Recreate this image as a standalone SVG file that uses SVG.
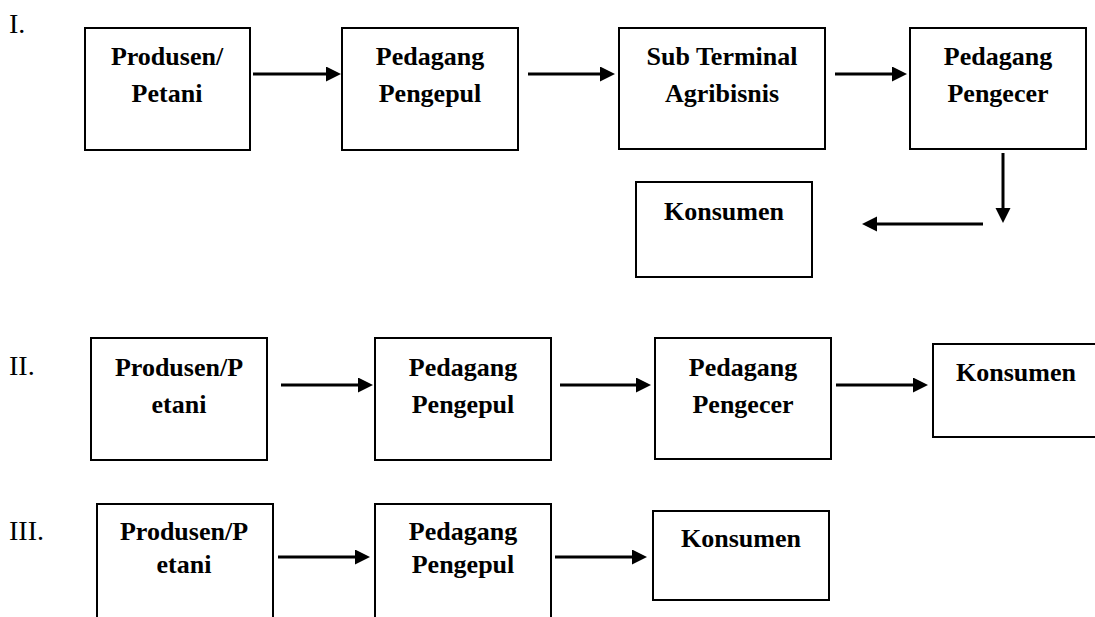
<svg xmlns="http://www.w3.org/2000/svg" width="1095" height="617" viewBox="0 0 1095 617">
  <style>
    .box { fill: #ffffff; stroke: #000000; stroke-width: 2; }
    .lbl { font-family: "Liberation Serif", "Times New Roman", serif; font-weight: bold; font-size: 26px; text-anchor: middle; fill: #000000; }
    .num { font-family: "Liberation Serif", "Times New Roman", serif; font-size: 28px; fill: #000000; }
    .arr { stroke: #000000; stroke-width: 3; fill: none; marker-end: url(#ah); }
  </style>
  <defs>
    <marker id="ah" markerUnits="userSpaceOnUse" markerWidth="18" markerHeight="16" refX="1" refY="7.5" orient="auto">
      <path d="M0,0 L15,7.5 L0,15 z" fill="#000000"/>
    </marker>
  </defs>
  <rect width="1095" height="617" fill="#ffffff"/>

  <g id="row-labels">
    <text class="num" x="9" y="33">I.</text>
    <text class="num" x="9" y="375">II.</text>
    <text class="num" x="9" y="540">III.</text>
  </g>

  <!-- Row I -->
  <g id="r1-produsen">
    <rect class="box" x="85" y="28" width="165" height="122"/>
    <text class="lbl" x="167" y="65">Produsen/</text>
    <text class="lbl" x="167" y="102">Petani</text>
  </g>
  <g id="r1-pengepul">
    <rect class="box" x="342" y="28" width="176" height="122"/>
    <text class="lbl" x="430" y="65">Pedagang</text>
    <text class="lbl" x="430" y="102">Pengepul</text>
  </g>
  <g id="r1-sta">
    <rect class="box" x="619" y="28" width="206" height="121"/>
    <text class="lbl" x="722" y="65">Sub Terminal</text>
    <text class="lbl" x="722" y="102">Agribisnis</text>
  </g>
  <g id="r1-pengecer">
    <rect class="box" x="910" y="28" width="176" height="121"/>
    <text class="lbl" x="998" y="65">Pedagang</text>
    <text class="lbl" x="998" y="102">Pengecer</text>
  </g>
  <g id="r1-konsumen">
    <rect class="box" x="636" y="182" width="176" height="95"/>
    <text class="lbl" x="724" y="220">Konsumen</text>
  </g>

  <!-- Row II -->
  <g id="r2-produsen">
    <rect class="box" x="91" y="338" width="176" height="122"/>
    <text class="lbl" x="179" y="376">Produsen/P</text>
    <text class="lbl" x="179" y="413">etani</text>
  </g>
  <g id="r2-pengepul">
    <rect class="box" x="375" y="338" width="176" height="122"/>
    <text class="lbl" x="463" y="376">Pedagang</text>
    <text class="lbl" x="463" y="413">Pengepul</text>
  </g>
  <g id="r2-pengecer">
    <rect class="box" x="655" y="338" width="176" height="121"/>
    <text class="lbl" x="743" y="376">Pedagang</text>
    <text class="lbl" x="743" y="413">Pengecer</text>
  </g>
  <g id="r2-konsumen">
    <rect class="box" x="933" y="344" width="200" height="93"/>
    <text class="lbl" x="1016" y="381">Konsumen</text>
  </g>

  <!-- Row III -->
  <g id="r3-produsen">
    <rect class="box" x="97" y="504" width="176" height="150"/>
    <text class="lbl" x="184" y="540">Produsen/P</text>
    <text class="lbl" x="184" y="573">etani</text>
  </g>
  <g id="r3-pengepul">
    <rect class="box" x="375" y="504" width="176" height="150"/>
    <text class="lbl" x="463" y="540">Pedagang</text>
    <text class="lbl" x="463" y="573">Pengepul</text>
  </g>
  <g id="r3-konsumen">
    <rect class="box" x="653" y="511" width="176" height="89"/>
    <text class="lbl" x="741" y="547">Konsumen</text>
  </g>

  <g id="connectors">
    <line class="arr" x1="253" y1="74" x2="327" y2="74"/>
    <line class="arr" x1="528" y1="74" x2="601" y2="74"/>
    <line class="arr" x1="835" y1="74" x2="893" y2="74"/>
    <line class="arr" x1="1003" y1="153" x2="1003" y2="209"/>
    <line class="arr" x1="983" y1="224" x2="876" y2="224"/>

    <line class="arr" x1="281" y1="385" x2="359" y2="385"/>
    <line class="arr" x1="560" y1="385" x2="637" y2="385"/>
    <line class="arr" x1="836" y1="385" x2="914" y2="385"/>

    <line class="arr" x1="278" y1="557" x2="356" y2="557"/>
    <line class="arr" x1="555" y1="557" x2="633" y2="557"/>
  </g>
</svg>
